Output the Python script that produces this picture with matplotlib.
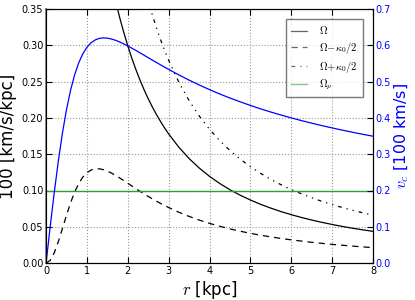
import matplotlib
matplotlib.use("Agg")
import matplotlib.pyplot as plt

plt.rcParams["mathtext.fontset"] = "cm"
plt.rcParams["font.family"] = ["DejaVu Sans"]

# radius [kpc] and curves
r = [0.0, 0.1, 0.2, 0.3, 0.4, 0.5, 0.6, 0.7, 0.8, 0.9,
     1.0, 1.1, 1.2, 1.3, 1.4, 1.5, 1.6, 1.7, 1.8, 1.9,
     2.0, 2.1, 2.2, 2.3, 2.4, 2.5, 2.6, 2.7, 2.8, 2.9,
     3.0, 3.25, 3.5, 3.75, 4.0, 4.25, 4.5, 4.75, 5.0, 5.25,
     5.5, 5.75, 6.0, 6.25, 6.5, 6.75, 7.0, 7.25, 7.5, 7.75, 8.0]
# circular velocity [100 km/s]
v_c = [0.0, 0.0993, 0.1942, 0.2812, 0.3579, 0.4230, 0.4764, 0.5191, 0.5520, 0.5767,
       0.5946, 0.6069, 0.6147, 0.6189, 0.6204, 0.6197, 0.6173, 0.6138, 0.6092, 0.6039,
       0.5981, 0.5920, 0.5856, 0.5791, 0.5725, 0.5658, 0.5592, 0.5526, 0.5462, 0.5398,
       0.5335, 0.5183, 0.5040, 0.4905, 0.4778, 0.4658, 0.4547, 0.4442, 0.4343, 0.4249,
       0.4161, 0.4078, 0.4000, 0.3925, 0.3854, 0.3787, 0.3723, 0.3662, 0.3604, 0.3548, 0.3495]
# angular frequencies [100 km/s/kpc]
omega = [1.0, 0.9926, 0.9710, 0.9374, 0.8947, 0.8459, 0.7941, 0.7415, 0.6900, 0.6408,
         0.5946, 0.5517, 0.5122, 0.4761, 0.4431, 0.4131, 0.3858, 0.3610, 0.3384, 0.3179,
         0.2991, 0.2819, 0.2662, 0.2518, 0.2385, 0.2263, 0.2151, 0.2047, 0.1951, 0.1861,
         0.1778, 0.1595, 0.1440, 0.1308, 0.1194, 0.1096, 0.1010, 0.0935, 0.0869, 0.0809,
         0.0757, 0.0709, 0.0667, 0.0628, 0.0593, 0.0561, 0.0532, 0.0505, 0.0480, 0.0458, 0.0437]
omega_minus = [0.0, 0.0037, 0.0141, 0.0295, 0.0475, 0.0660, 0.0832, 0.0979, 0.1097, 0.1185,
               0.1245, 0.1282, 0.1298, 0.1299, 0.1287, 0.1267, 0.1240, 0.1208, 0.1173, 0.1137,
               0.1099, 0.1062, 0.1024, 0.0988, 0.0952, 0.0918, 0.0885, 0.0853, 0.0822, 0.0793,
               0.0765, 0.0700, 0.0643, 0.0592, 0.0547, 0.0507, 0.0471, 0.0439, 0.0410, 0.0384,
               0.0361, 0.0339, 0.0320, 0.0303, 0.0286, 0.0272, 0.0258, 0.0246, 0.0234, 0.0223, 0.0213]
omega_plus = [2.0, 1.9815, 1.9280, 1.8453, 1.7418, 1.6258, 1.5049, 1.3851, 1.2703, 1.1631,
              1.0647, 0.9752, 0.8947, 0.8223, 0.7575, 0.6996, 0.6477, 0.6013, 0.5596, 0.5220,
              0.4882, 0.4576, 0.4299, 0.4048, 0.3818, 0.3609, 0.3417, 0.3241, 0.3079, 0.2930,
              0.2792, 0.2490, 0.2237, 0.2024, 0.1842, 0.1686, 0.1550, 0.1432, 0.1327, 0.1235,
              0.1153, 0.1079, 0.1013, 0.0954, 0.0900, 0.0850, 0.0806, 0.0765, 0.0727, 0.0692, 0.0660]
omega_p = 0.1

fig = plt.figure(figsize=(4.15, 3.0), dpi=100, facecolor="white")
ax = fig.add_axes([0.111, 0.123, 0.788, 0.847])
ax.plot(r, omega, color="k", lw=0.9, label=r"$\Omega$")
ax.plot(r, omega_minus, color="k", lw=0.9, ls=(0, (5, 4)),
        label=r"$\Omega\!-\!\kappa_0/2$")
ax.plot(r, omega_plus, color="k", lw=0.9, ls=(0, (3, 4, 1, 4, 1, 4)),
        label=r"$\Omega\!+\!\kappa_0/2$")
ax.plot([r[0], r[-1]], [omega_p, omega_p], color="#2ca02c", lw=1.0,
        label=r"$\Omega_p$")
ax.set_xlim(0, 8)
ax.set_ylim(0, 0.35)
ax.set_xticks(range(9))
ax.set_yticks([0.0, 0.05, 0.10, 0.15, 0.20, 0.25, 0.30, 0.35])
ax.set_yticklabels(["0.00", "0.05", "0.10", "0.15", "0.20", "0.25", "0.30", "0.35"])
ax.grid(True, color="0.6", ls=":", lw=0.8)
ax.tick_params(direction="in", labelsize=7, length=4, top=True, pad=2)
ax.spines["left"].set_color("0.5")
ax.spines["left"].set_linewidth(1.3)
ax.set_xlabel(r"$r$ [kpc]", fontsize=12, labelpad=2)
ax.set_ylabel("100 [km/s/kpc]", fontsize=12, labelpad=3)

leg = ax.legend(loc="upper right", fontsize=7.5, handlelength=1.5,
                handletextpad=1.2, borderpad=0.5, labelspacing=0.3,
                fancybox=False, bbox_to_anchor=(0.985, 0.98))
leg.get_frame().set_edgecolor("0.35")
leg.get_frame().set_linewidth(1.0)
for h in leg.get_lines():
    h.set_alpha(0.6)

ax2 = ax.twinx()
ax2.plot(r, v_c, color="b", lw=0.9)
ax2.set_ylim(0, 0.7)
ax2.set_yticks([0.0, 0.1, 0.2, 0.3, 0.4, 0.5, 0.6, 0.7])
ax2.tick_params(direction="in", labelsize=7, length=4, pad=2,
                labelcolor="b")
ax2.set_ylabel(r"$v_c$ [100 km/s]", fontsize=11.5, color="b", labelpad=1)

fig.savefig("out.png", dpi=100, facecolor="white")
